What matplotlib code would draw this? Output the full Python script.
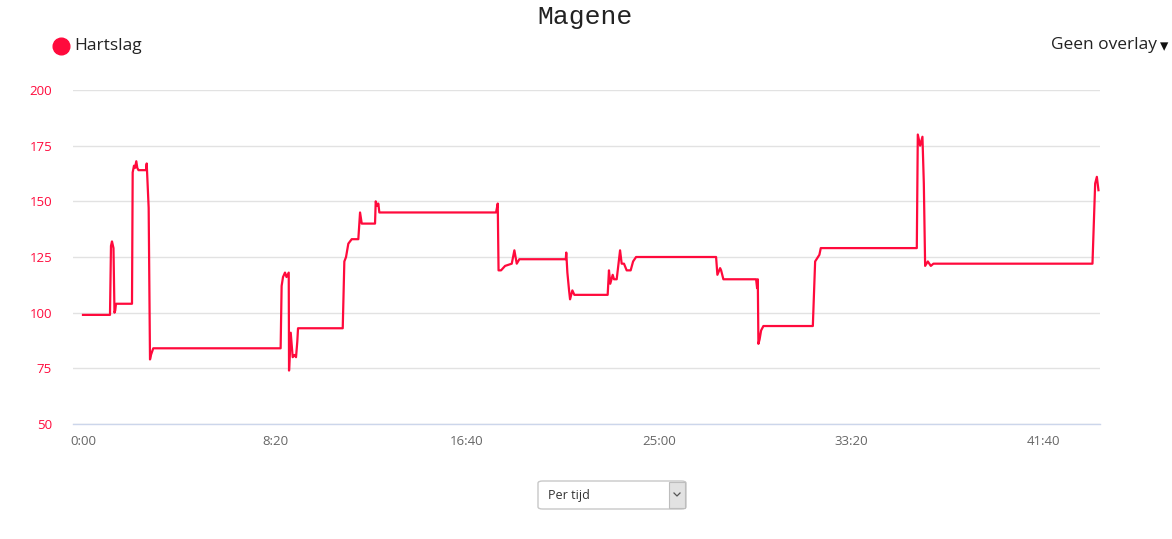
import matplotlib
matplotlib.use("Agg")
import matplotlib.pyplot as plt
from matplotlib.patches import FancyBboxPatch, Rectangle
from matplotlib.lines import Line2D

# Data: time in seconds, heart rate in bpm
time_s = [0, 70.3, 72.9, 75.5, 79.4, 82, 84, 85.9, 127.6, 129.4, 132.8, 135.4, 138.8, 141.4,
          144.5, 164, 165.9, 171, 174.5, 177, 183, 514.6, 517.2, 520.8, 526, 529.9, 535.7,
          536.5, 540.9, 546, 550.8, 554.7, 558, 559.9, 676.3, 680.5, 684.9, 690.9, 699.7,
          716.9, 721.4, 725.8, 760.4, 762.2, 765.6, 769, 771.6, 1075.5, 1079.9, 1082, 1088.5,
          1099, 1116.4, 1123.2, 1129.4, 1136.2, 1257, 1258.3, 1261.2, 1265.6, 1268.2, 1274.2,
          1279.4, 1366.1, 1369.5, 1372.9, 1379.2, 1382.6, 1389.6, 1398.4, 1402.6, 1408.6,
          1415.6, 1426, 1432.3, 1440.1, 1648.4, 1651.8, 1658.9, 1661.5, 1667.4, 1752.6,
          1755.2, 1757, 1758.6, 1761.7, 1765.6, 1771.6, 1900.3, 1906.3, 1917.4, 1921, 2171,
          2173.6, 2179.7, 2185.7, 2189.3, 2192.7, 2199.7, 2207.5, 2214.3, 2628.4, 2635.4,
          2639.8, 2644]
heart_rate = [99, 99, 130, 132, 129, 100, 101, 104, 104, 163, 166, 165, 168, 165,
              164, 164, 167, 147, 79, 81, 84, 84, 112, 116, 118, 116, 118,
              74, 91, 80, 81, 80, 87, 93, 93, 123, 125, 131, 133,
              133, 145, 140, 140, 150, 148, 149, 145, 145, 149, 119, 119,
              121, 122, 128, 122, 124, 124, 127, 118, 110, 106, 110,
              108, 108, 119, 113, 117, 115, 115, 128, 122, 122,
              119, 119, 123, 125, 125, 117, 120, 119, 115, 115,
              111, 115, 86, 88, 92, 94, 94, 123, 126, 129, 129,
              180, 175, 179, 158, 121, 123, 121, 122, 122, 158,
              161, 155]

x_ticks = [0, 500, 1000, 1500, 2000, 2500]
x_tick_labels = ["0:00", "8:20", "16:40", "25:00", "33:20", "41:40"]
y_ticks = [50, 75, 100, 125, 150, 175, 200]

title = "Magene"
series_name = "Hartslag"
overlay_label = "Geen overlay"
dropdown_label = "Per tijd"

RED = "#ff0a3c"
W, H = 1172, 539
fig = plt.figure(figsize=(W / 100, H / 100), dpi=100)
fig.patch.set_facecolor("white")

def fx(px):
    return px / W

def fy(py):
    return 1 - py / H

ax = fig.add_axes([fx(73), fy(424), fx(1100) - fx(73), fy(90) - fy(424)])
ax.plot(time_s, heart_rate, color=RED, lw=1.6, solid_joinstyle="round", zorder=3)
ax.set_xlim(-26, 2648)
ax.set_ylim(50, 200)
ax.set_yticks(y_ticks)
ax.set_xticks(x_ticks)
ax.set_xticklabels(x_tick_labels)
ax.grid(axis="y", color="#e2e2e2", lw=1)
ax.set_axisbelow(True)
for s in ["top", "right", "left"]:
    ax.spines[s].set_visible(False)
ax.spines["bottom"].set_color("#ccd6eb")
ax.spines["bottom"].set_linewidth(1)
ax.tick_params(axis="both", length=0)
ax.tick_params(axis="y", colors=RED, labelsize=9.5, pad=15)
ax.tick_params(axis="x", colors="#666666", labelsize=9.5, pad=8)
for lbl in ax.get_yticklabels() + ax.get_xticklabels():
    lbl.set_fontfamily("Open Sans")

# Title
fig.text(fx(585), fy(17), title, ha="center", va="center", fontsize=19,
         family="Liberation Mono", color="#222222")

# Legend
fig.add_artist(Line2D([fx(61)], [fy(46)], marker="o", markersize=12, color=RED,
                      linestyle="none"))
fig.text(fx(74), fy(46), series_name, ha="left", va="center", fontsize=12.5,
         family="Open Sans", color="#222222")

# Overlay selector
fig.text(fx(1157), fy(45), overlay_label, ha="right", va="center", fontsize=12.5,
         family="Open Sans", color="#222222")
fig.text(fx(1168), fy(46), "\u25BE", ha="right", va="center", fontsize=12,
         family="DejaVu Sans", color="#111111")

# Dropdown box
box = FancyBboxPatch((fx(538), fy(509)), fx(686) - fx(538), fy(481) - fy(509),
                     boxstyle="round,pad=0,rounding_size=0.004",
                     transform=fig.transFigure, facecolor="white", edgecolor="#c8c8c8",
                     lw=1)
fig.add_artist(box)
btn = Rectangle((fx(669), fy(508)), fx(685) - fx(669), fy(482) - fy(508),
                transform=fig.transFigure, facecolor="#e2e2e2", edgecolor="#bdbdbd", lw=0.8)
fig.add_artist(btn)
fig.add_artist(Line2D([fx(674), fx(677), fx(680)], [fy(493), fy(496), fy(493)],
                      color="#555555", lw=0.9))
fig.text(fx(548), fy(495), dropdown_label, ha="left", va="center", fontsize=9,
         family="Open Sans", color="#333333")

fig.savefig("out.png", dpi=100)
